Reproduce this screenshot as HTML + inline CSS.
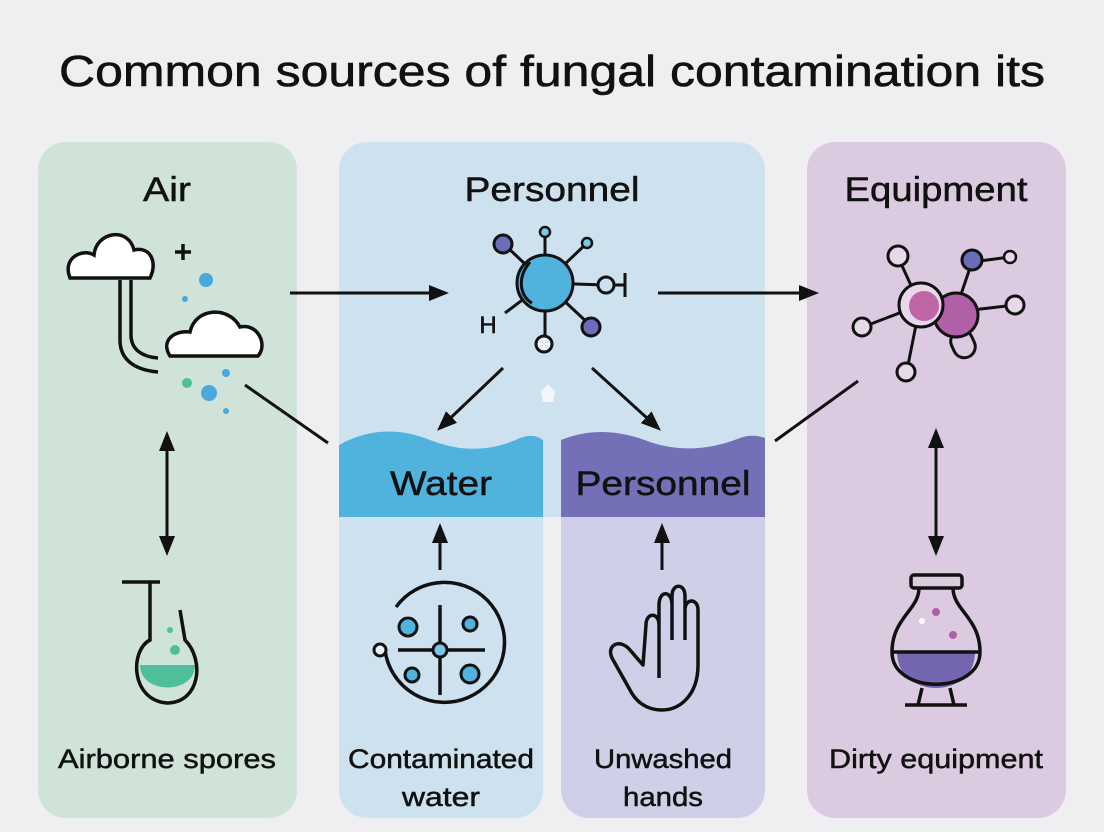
<!DOCTYPE html>
<html><head><meta charset="utf-8"><style>
html,body{margin:0;padding:0;background:#efeff1;}
svg{display:block}
text{font-family:"Liberation Sans",sans-serif;fill:#111}
</style></head><body>
<svg width="1104" height="832" viewBox="0 0 1104 832" xmlns="http://www.w3.org/2000/svg">
<defs>
<marker id="ah2" markerWidth="20" markerHeight="20" refX="16" refY="10" orient="auto" markerUnits="userSpaceOnUse"><path d="M0,2 L20,10 L0,18 z" fill="#111"/></marker>
<marker id="as" markerWidth="20" markerHeight="20" refX="4" refY="10" orient="auto" markerUnits="userSpaceOnUse"><path d="M20,2 L0,10 L20,18 z" fill="#111"/></marker>
</defs>
<rect x="0" y="0" width="1104" height="832" fill="#efeff1"/>
<text x="552" y="86" font-size="44" text-anchor="middle" textLength="986" lengthAdjust="spacingAndGlyphs" stroke="#111" stroke-width="0.6">Common sources of fungal contamination its</text>

<!-- panels -->
<rect x="38" y="142" width="259" height="676" rx="28" fill="#cfe3d9"/>
<path d="M367,142 H737 A28,28 0 0 1 765,170 V517 H339 V170 A28,28 0 0 1 367,142 z" fill="#cde2ee"/>
<path d="M339,517 H543 V790 A28,28 0 0 1 515,818 H367 A28,28 0 0 1 339,790 z" fill="#cde2ee"/>
<path d="M561,517 H765 V790 A28,28 0 0 1 737,818 H589 A28,28 0 0 1 561,790 z" fill="#cfcfe8"/>
<rect x="807" y="142" width="259" height="676" rx="28" fill="#dccbe0"/>

<!-- wave bands -->
<path d="M339,445 C370,428 400,428 430,440 C460,452 490,452 520,438 C530,434 538,436 543,440 L543,517 L339,517 z" fill="#4fb3de"/>
<path d="M561,440 C590,428 620,430 650,442 C680,452 710,450 740,438 C750,434 760,436 765,438 L765,517 L561,517 z" fill="#7370b8"/>

<g stroke="#111" stroke-width="0.5">
<text x="167" y="201" font-size="34" text-anchor="middle" textLength="48" lengthAdjust="spacingAndGlyphs">Air</text>
<text x="552" y="201" font-size="34" text-anchor="middle" textLength="175" lengthAdjust="spacingAndGlyphs">Personnel</text>
<text x="936" y="201" font-size="34" text-anchor="middle" textLength="183" lengthAdjust="spacingAndGlyphs">Equipment</text>
<text x="441" y="495" font-size="34" text-anchor="middle" textLength="102" lengthAdjust="spacingAndGlyphs">Water</text>
<text x="663" y="495" font-size="34" text-anchor="middle" textLength="175" lengthAdjust="spacingAndGlyphs">Personnel</text>
<text x="167" y="768" font-size="27" text-anchor="middle" textLength="218" lengthAdjust="spacingAndGlyphs">Airborne spores</text>
<text x="441" y="768" font-size="27" text-anchor="middle" textLength="186" lengthAdjust="spacingAndGlyphs">Contaminated</text>
<text x="441" y="806" font-size="27" text-anchor="middle" textLength="78" lengthAdjust="spacingAndGlyphs">water</text>
<text x="663" y="768" font-size="27" text-anchor="middle" textLength="138" lengthAdjust="spacingAndGlyphs">Unwashed</text>
<text x="663" y="806" font-size="27" text-anchor="middle" textLength="80" lengthAdjust="spacingAndGlyphs">hands</text>
<text x="936" y="768" font-size="27" text-anchor="middle" textLength="214" lengthAdjust="spacingAndGlyphs">Dirty equipment</text>
</g>

<!-- connectors -->
<g stroke="#111" stroke-width="3" fill="none">
<line x1="290" y1="293" x2="445" y2="293" marker-end="url(#ah2)"/>
<line x1="658" y1="293" x2="815" y2="293" marker-end="url(#ah2)"/>
<line x1="245" y1="385" x2="328" y2="443"/>
<line x1="858" y1="381" x2="775" y2="441"/>
<line x1="503" y1="368" x2="440" y2="428" marker-end="url(#ah2)"/>
<line x1="592" y1="368" x2="658" y2="428" marker-end="url(#ah2)"/>
<line x1="167" y1="435" x2="167" y2="552" marker-start="url(#as)" marker-end="url(#ah2)"/>
<line x1="936" y1="432" x2="936" y2="552" marker-start="url(#as)" marker-end="url(#ah2)"/>
<line x1="440" y1="570" x2="440" y2="527" marker-end="url(#ah2)"/>
<line x1="662" y1="570" x2="662" y2="527" marker-end="url(#ah2)"/>
</g>
<path d="M548,384 l7,8 -2,10 -10,0 -2,-10z" fill="#f6f6f8"/>

<!-- Air clouds -->
<g stroke="#111" stroke-width="3.5" fill="#fff">
<path d="M70,278 C62,258 82,248 94,255 C96,232 128,226 134,250 C150,246 158,262 150,278 z"/>
<path d="M170,356 C160,340 175,330 190,332 C195,308 228,305 240,327 C258,323 268,345 258,356 z"/>
</g>
<g stroke="#111" stroke-width="3.5" fill="none">
<path d="M120,280 L120,340 C120,360 135,370 158,372"/>
<path d="M131,280 L131,335 C131,350 143,357 158,358"/>
<path d="M183,244 v16 M175,252 h16"/>
</g>
<g fill="#4aa8dc"><circle cx="206" cy="280" r="7"/><circle cx="185" cy="299" r="3"/><circle cx="209" cy="393" r="8"/><circle cx="226" cy="373" r="4"/><circle cx="226" cy="411" r="3"/></g>
<circle cx="187" cy="383" r="5" fill="#4dbf9a"/>

<!-- flask air -->
<path d="M140,665 C140,695 195,695 195,665 z" fill="#4dbf9a"/>
<g stroke="#111" stroke-width="3.5" fill="none">
<path d="M122,582 h38 M150,582 v58 C130,650 130,700 167,703 C200,703 205,660 185,640 L180,610"/>
</g>
<circle cx="175" cy="650" r="5" fill="#4dbf9a"/><circle cx="170" cy="630" r="3" fill="#4dbf9a"/>

<!-- personnel molecule -->
<g stroke="#111" stroke-width="3">
<line x1="545" y1="283" x2="505" y2="245"/><line x1="545" y1="283" x2="545" y2="232"/><line x1="545" y1="283" x2="587" y2="243"/>
<line x1="545" y1="283" x2="605" y2="285"/><line x1="545" y1="283" x2="590" y2="325"/><line x1="545" y1="283" x2="545" y2="343"/><line x1="545" y1="283" x2="505" y2="313"/>
<line x1="612" y1="285" x2="625" y2="285" /><line x1="625" y1="273" x2="625" y2="297"/>
</g>
<circle cx="545" cy="283" r="28" fill="#4fb3de" stroke="#111" stroke-width="3"/>
<path d="M530,262 C515,280 522,298 532,303" fill="none" stroke="#111" stroke-width="3"/>
<circle cx="503" cy="244" r="9" fill="#6b6db8" stroke="#111" stroke-width="3"/>
<circle cx="545" cy="232" r="5" fill="#7bc8e6" stroke="#111" stroke-width="2.5"/>
<circle cx="587" cy="243" r="5" fill="#7bc8e6" stroke="#111" stroke-width="2.5"/>
<circle cx="606" cy="285" r="8" fill="#cde2ee" stroke="#111" stroke-width="3"/>
<circle cx="591" cy="327" r="9" fill="#6b6db8" stroke="#111" stroke-width="3"/>
<circle cx="544" cy="344" r="8" fill="#e8f2f8" stroke="#111" stroke-width="3"/>
<text x="488" y="333" font-size="24" text-anchor="middle" stroke="#111" stroke-width="0.5">H</text>

<!-- equipment molecule -->
<g stroke="#111" stroke-width="3">
<line x1="920" y1="305" x2="898" y2="257"/><line x1="920" y1="305" x2="863" y2="327"/><line x1="920" y1="305" x2="907" y2="370"/>
<line x1="955" y1="312" x2="972" y2="262"/><line x1="972" y1="262" x2="1010" y2="257"/><line x1="955" y1="312" x2="1015" y2="305"/>
</g>
<rect x="952" y="330" width="22" height="28" rx="11" fill="#dccbe0" stroke="#111" stroke-width="3" transform="rotate(-25 963 344)"/>
<circle cx="956" cy="315" r="22" fill="#b060a6" stroke="#111" stroke-width="3"/>
<circle cx="921" cy="305" r="22" fill="#e8d8ea" stroke="#111" stroke-width="3"/>
<circle cx="924" cy="306" r="15" fill="#c066a6"/>
<circle cx="898" cy="256" r="10" fill="#e8d8ea" stroke="#111" stroke-width="3"/>
<circle cx="972" cy="260" r="10" fill="#6b6db8" stroke="#111" stroke-width="3"/>
<circle cx="1010" cy="257" r="6" fill="#e8d8ea" stroke="#111" stroke-width="2.5"/>
<circle cx="1015" cy="305" r="9" fill="#e8d8ea" stroke="#111" stroke-width="3"/>
<circle cx="862" cy="327" r="9" fill="#e8d8ea" stroke="#111" stroke-width="3"/>
<circle cx="906" cy="372" r="9" fill="#e8d8ea" stroke="#111" stroke-width="3"/>

<!-- equipment flask -->
<path d="M897,652 C897,700 975,700 975,652 z" fill="#7365b0"/>
<g stroke="#111" stroke-width="3.5" fill="none">
<rect x="911" y="575" width="51" height="13" rx="3"/>
<path d="M919,588 C919,610 892,618 892,652 C892,695 980,695 980,652 C980,618 953,610 953,588"/>
<line x1="892" y1="652" x2="980" y2="652"/>
<path d="M922,688 L918,705 M950,688 L954,705 M905,705 h62"/>
</g>
<circle cx="936" cy="612" r="4" fill="#b060a6"/><circle cx="953" cy="635" r="4" fill="#b060a6"/><circle cx="922" cy="621" r="3" fill="#fff"/>

<!-- water circle icon -->
<g stroke="#111" stroke-width="3.5" fill="none">
<path d="M396,607 A60,60 0 1 1 385,650"/>
<line x1="440" y1="605" x2="440" y2="695"/><line x1="398" y1="650" x2="485" y2="650"/>
</g>
<circle cx="380" cy="650" r="6" fill="#e8f2f8" stroke="#111" stroke-width="3"/>
<circle cx="440" cy="650" r="7" fill="#7bc8e6" stroke="#111" stroke-width="3"/>
<circle cx="408" cy="627" r="9" fill="#4fb3de" stroke="#111" stroke-width="3"/>
<circle cx="470" cy="624" r="7" fill="#4fb3de" stroke="#111" stroke-width="3"/>
<circle cx="412" cy="675" r="7" fill="#4fb3de" stroke="#111" stroke-width="3"/>
<circle cx="470" cy="674" r="9" fill="#4fb3de" stroke="#111" stroke-width="3"/>

<!-- hand -->
<path d="M659,678 L659,605 C659,590 672,590 672,605 L672,640 M672,605 L672,596 C672,583 685,583 685,596 L685,640 M685,610 C685,598 698,598 698,610 L698,665 C698,695 680,710 662,710 C645,710 635,700 630,690 L612,658 C606,645 620,638 630,650 L643,665 L646,625 C646,612 659,612 659,625" fill="none" stroke="#111" stroke-width="3.5" stroke-linejoin="round"/>
</svg>
</body></html>
